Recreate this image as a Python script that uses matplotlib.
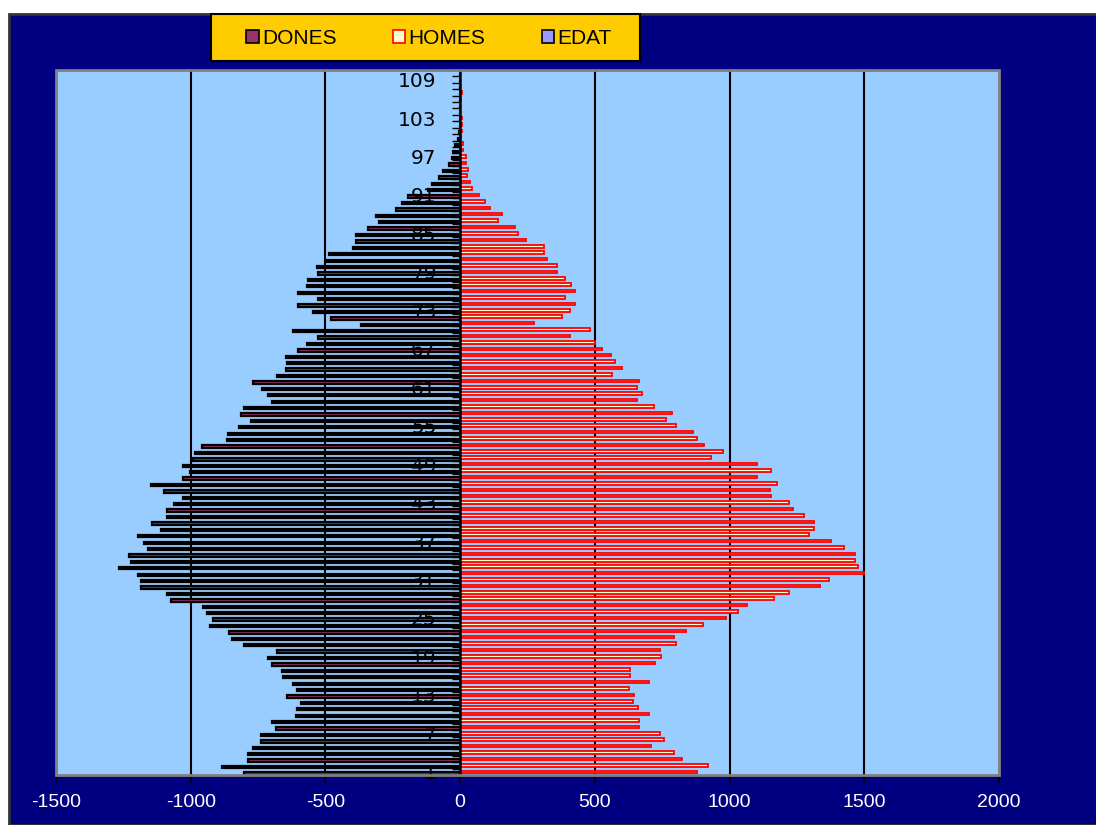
import numpy as np
import matplotlib
matplotlib.use("Agg")
import matplotlib.pyplot as plt
from matplotlib.patches import Rectangle, Patch

plt.rcParams['font.family'] = ['Liberation Sans', 'DejaVu Sans']

# edat 1..110
edat = np.arange(1, 111)

# DONES (valors absoluts, es dibuixen a l'esquerra)
dones = [801, 885, 788, 788, 770, 739, 739, 684, 697, 610,
         604, 591, 641, 604, 622, 656, 660, 697, 715, 678,
         801, 845, 857, 928, 916, 940, 953, 1074, 1087, 1184,
         1184, 1197, 1268, 1221, 1228, 1160, 1172, 1197, 1111, 1142,
         1087, 1087, 1062, 1027, 1099, 1149, 1027, 1002, 1027, 990,
         984, 959, 866, 860, 819, 776, 813, 801, 697, 715,
         734, 770, 678, 647, 641, 647, 600, 569, 526, 622,
         367, 479, 545, 600, 526, 600, 569, 563, 526, 532,
         495, 488, 398, 386, 386, 343, 301, 312, 239, 216,
         192, 120, 104, 80, 62, 40, 31, 25, 18, 8,
         4, 0, 0, 0, 0, 0, 0, 0, 0, 0]

# HOMES
homes = [880, 920, 825, 795, 710, 755, 740, 665, 665, 700,
         660, 640, 645, 625, 700, 630, 630, 725, 745, 740,
         800, 795, 840, 900, 985, 1030, 1065, 1165, 1220, 1335,
         1370, 1500, 1475, 1465, 1465, 1425, 1375, 1295, 1315, 1315,
         1275, 1235, 1220, 1155, 1150, 1175, 1100, 1155, 1100, 930,
         975, 905, 880, 865, 800, 765, 785, 720, 655, 675,
         655, 665, 565, 600, 575, 560, 525, 501, 408, 483,
         275, 377, 408, 427, 390, 427, 412, 390, 359, 359,
         324, 313, 313, 245, 214, 202, 142, 155, 111, 93,
         69, 43, 37, 25, 31, 20, 20, 12, 12, 5,
         7, 7, 7, 0, 0, 5, 7, 0, 0, 0]

dones = np.array(dones)
homes = np.array(homes)

W, H = 1096, 825
fig = plt.figure(figsize=(W / 100, H / 100), dpi=100)
fig.patch.set_facecolor('white')

# fons blau marí
fig.patches.append(Rectangle((9 / W, 0), 1, (H - 14) / H, transform=fig.transFigure,
                             fc='#000080', ec='#333333', lw=2, zorder=0))

ax = fig.add_axes([56 / W, 50 / H, 943 / W, 705 / H])
ax.set_zorder(2)
ax.set_facecolor('#99CCFF')
ax.set_xlim(-1500, 2000)
ax.set_ylim(0.5, 110.5)

# graella vertical (sota les barres)
for xv in [-1000, -500, 500, 1000, 1500]:
    ax.axvline(xv, color='black', lw=1.5, zorder=1)

ax.barh(edat - 0.25, -dones, height=0.36, color='#993366', edgecolor='black', lw=1.6, zorder=2)
ax.barh(edat, homes, height=0.4, color='#FFFFCC', edgecolor='red', lw=1.3, zorder=2)

ax.set_axisbelow(False)
ax.set_xticks(range(-1500, 2001, 500))
ax.set_xticklabels([str(v) for v in range(-1500, 2001, 500)], color='white', fontsize=14)
ax.tick_params(axis='x', direction='out', length=6, width=1.2, color='black', pad=8)

# eix de categories a x=0
for s in ['top', 'right', 'bottom']:
    ax.spines[s].set_visible(False)
ax.spines['left'].set_position(('data', 0))
ax.spines['left'].set_color('black')
ax.spines['left'].set_linewidth(1.8)
ax.spines['left'].set_zorder(4)
ax.set_yticks(range(1, 111, 6))
ax.set_yticklabels([str(v) for v in range(1, 111, 6)], fontsize=14.5, color='black',
                   family='DejaVu Sans')
ax.set_yticks(np.arange(0.5, 111, 1), minor=True)
ax.tick_params(axis='y', which='major', length=0, pad=17)
ax.tick_params(axis='y', which='minor', direction='out', length=6, width=1, color='black')

# vora de l'àrea del gràfic
ax.add_patch(Rectangle((0, 0), 1, 1, transform=ax.transAxes, fill=False,
                       ec='#808080', lw=2, clip_on=False, zorder=5))

# llegenda
fig.patches.append(Rectangle((211 / W, (H - 61) / H), (640 - 211) / W, 47 / H,
                             transform=fig.transFigure, fc='#FFCC00', ec='black', lw=1.5, zorder=1))
handles = [Patch(fc='#993366', ec='black', lw=1.2, label='DONES'),
           Patch(fc='#FFFFCC', ec='red', lw=1.2, label='HOMES'),
           Patch(fc='#9999FF', ec='black', lw=1.2, label='EDAT')]
leg = fig.legend(handles=handles, ncol=3, loc='center', bbox_to_anchor=(429 / W, (H - 38) / H),
                 frameon=False, fontsize=15, handlelength=0.6, handleheight=0.6,
                 handletextpad=0.15, columnspacing=2.7)
leg.set_zorder(6)

fig.savefig('out.png', dpi=100, facecolor=fig.get_facecolor())
